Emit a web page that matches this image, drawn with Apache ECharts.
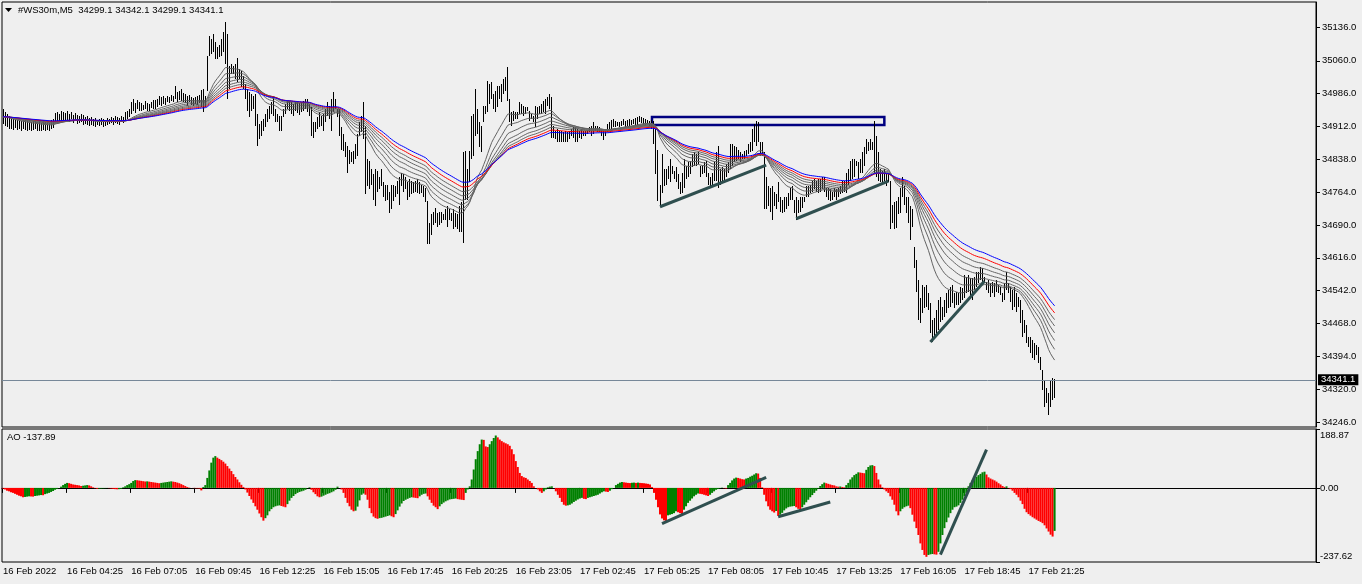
<!DOCTYPE html>
<html>
<head>
<meta charset="utf-8">
<script src="https://cdn.jsdelivr.net/npm/echarts@6.0.0/dist/echarts.min.js"></script>
<style>
html,body{margin:0;padding:0;background:#efefef;}
#chart{width:1362px;height:584px;}
</style>
</head>
<body>
<div id="chart"></div>
<script>
// ---------- DATA ----------
const symbolTitle = '#WS30m,M5  34299.1 34342.1 34299.1 34341.1';
const aoTitle = 'AO -137.89';

// x-axis tick labels, one every 32 bars (M5)
const timeLabels = ['16 Feb 2022','16 Feb 04:25','16 Feb 07:05','16 Feb 09:45','16 Feb 12:25','16 Feb 15:05',
  '16 Feb 17:45','16 Feb 20:25','16 Feb 23:05','17 Feb 02:45','17 Feb 05:25','17 Feb 08:05','17 Feb 10:45',
  '17 Feb 13:25','17 Feb 16:05','17 Feb 18:45','17 Feb 21:25'];
const barsPerLabel = 32;
const slotCount = 656;

// price axis labels
const priceTicks = [34246,34320,34394,34468,34542,34616,34690,34764,34838,34912,34986,35060,35136];
const priceRange = [34234.7, 35192.4];
const lastPrice = 34341.1;

// AO axis labels
const aoTicks = [188.87, 0, -237.62];

// bar highs
const highs = [
34951,34944,34939,34935,34933,34928,34930,34926,34928,34924,34926,
34928,34924,34926,34921,34924,34928,34921,34924,34919,34926,34921,34924,34919,34926,34928,
34942,34944,34939,34946,34944,34942,34946,34939,34944,34937,34942,
34937,34935,34939,34937,34933,34935,34930,34933,34928,34930,34926,34928,
34930,34928,34926,34930,34928,34933,34930,34935,34933,34930,34935,34933,
34944,34946,34951,34967,34973,34964,34971,34967,
34964,34960,34969,34964,34962,34967,34971,34971,34973,34980,34978,34980,34976,
34980,34978,34982,34980,35003,34989,34991,34996,34987,34985,
34980,34982,34978,34976,34978,34980,34982,34994,34996,34980,
35070,35116,35109,35120,35102,35091,35095,35109,35125,35147,
35120,35048,35052,35048,35052,35066,35041,35037,35025,35007,
34996,34989,34985,34980,34985,34939,34917,34924,34928,34939,
34951,34958,34967,34980,34951,34939,34935,34935,34951,34962,
34969,34969,34967,34962,34967,34969,34964,34967,34969,34973,
34973,34962,34955,34921,34921,34933,34944,34935,34939,34951,
34967,34958,34973,34989,34973,34951,34951,34910,34894,34876,
34867,34860,34854,34856,34872,34894,34921,34935,34967,34912,
34838,34833,34815,34804,34815,34811,34799,34815,34786,34781,
34781,34765,34781,34781,34777,34788,34799,34808,34804,34797,
34786,34793,34788,34786,34788,34793,34786,34781,34777,34774,
34743,34695,34714,34720,34729,34718,34720,34720,34714,34725,
34732,34725,34718,34725,34718,34714,34732,34741,34854,34856,
34815,34856,34935,34939,34996,34951,34921,34912,34958,34958,
35014,35007,35012,34985,34991,35003,35003,35007,35018,35023,
35046,34973,34944,34946,34944,34944,34967,34962,34958,34955,
34955,34946,34939,34935,34958,34955,34958,34962,34969,34973,
34978,34985,34978,34912,34901,34906,34901,34901,34899,34901,
34899,34901,34906,34910,34910,34906,34901,34906,34901,34901,
34903,34910,34912,34921,34912,34912,34910,34906,34901,34901,
34917,34921,34926,34928,34924,34921,34921,34924,34928,34924,
34926,34928,34926,34928,34930,34933,34935,34933,34930,34928,
34926,34924,34926,34924,34906,34860,34781,34849,34815,34815,
34822,34838,34822,34811,34820,34804,34786,34808,34838,34822,
34831,34833,34849,34854,34849,34854,34822,34822,34831,34833,
34808,34797,34808,34831,34854,34867,34815,34820,34815,34827,
34831,34872,34872,34867,34865,34860,34854,34849,34856,34860,
34872,34876,34906,34917,34924,34921,34876,34876,34854,34799,
34777,34774,34777,34765,34759,34786,34752,34747,34752,34752,
34763,34774,34777,34747,34752,34747,34752,34752,34754,34777,
34777,34781,34788,34793,34788,34793,34793,34797,34797,34774,
34774,34770,34765,34774,34770,34774,34777,34788,34788,34808,
34815,34833,34838,34838,34833,34831,34838,34854,34865,34883,
34878,34883,34878,34924,34890,34854,34815,34811,34815,34804,
34808,34788,34736,34741,34743,34754,34774,34797,34777,34754,
34752,34732,34725,34641,34612,34567,34526,34555,34551,34555,
34537,34515,34476,34481,34499,34522,34528,34506,34522,34537,
34544,34551,34555,34537,34540,34537,34551,34549,34578,34573,
34578,34571,34571,34573,34583,34585,34596,34594,34573,34562,
34567,34560,34562,34560,34567,34555,34551,34537,34560,34583,
34560,34551,34544,34551,34537,34528,34522,34499,34476,34465,
34438,34438,34431,34424,34420,34415,34393,34363,34341,34323,
34311,34341,34345,34342.1];

// bar lows
const lows = [
34917,34912,34910,34906,34906,34903,34908,34903,34906,34901,34906,
34903,34901,34903,34901,34903,34906,34901,34901,34901,34903,34901,34903,34901,34906,34908,
34919,34917,34919,34924,34926,34921,34926,34921,34928,34919,34924,
34917,34919,34921,34915,34917,34915,34912,34915,34912,34910,34915,34912,
34915,34910,34912,34915,34917,34919,34915,34919,34917,34915,34921,34919,
34926,34928,34933,34939,34946,34942,34951,34946,
34946,34948,34951,34946,34946,34953,34951,34951,34955,34960,34958,34962,34960,
34967,34964,34969,34967,34973,34967,34971,34969,34967,34964,
34958,34967,34960,34958,34962,34960,34964,34955,34944,34955,
34991,35070,35075,35079,35064,35064,35068,35070,35079,35052,
34973,34996,35030,35030,35018,35012,35018,35000,34996,34973,
34946,34933,34946,34951,34912,34867,34883,34890,34901,34910,
34921,34928,34939,34935,34921,34921,34901,34901,34933,34939,
34951,34946,34939,34935,34946,34942,34937,34944,34946,34951,
34944,34935,34890,34885,34899,34906,34910,34912,34901,34921,
34935,34928,34901,34944,34951,34933,34890,34860,34856,34842,
34808,34827,34831,34827,34838,34845,34890,34899,34883,34759,
34777,34770,34781,34747,34732,34765,34770,34777,34754,34743,
34747,34718,34725,34743,34754,34759,34736,34777,34765,34770,
34747,34754,34759,34763,34765,34763,34759,34763,34752,34741,
34646,34646,34668,34691,34695,34686,34691,34695,34702,34702,
34686,34702,34698,34680,34686,34680,34673,34673,34650,34747,
34747,34786,34838,34845,34890,34894,34865,34854,34921,34939,
34944,34962,34973,34951,34944,34955,34973,34967,34985,34991,
34969,34921,34912,34924,34928,34928,34939,34939,34935,34939,
34946,34924,34928,34921,34910,34928,34939,34939,34944,34939,
34958,34951,34887,34887,34883,34878,34878,34876,34878,34876,
34878,34883,34890,34887,34878,34876,34887,34883,34890,34890,
34894,34899,34890,34894,34901,34899,34899,34890,34881,34890,
34899,34906,34901,34910,34910,34912,34910,34912,34915,34910,
34912,34910,34915,34917,34912,34915,34921,34919,34917,34915,
34917,34912,34906,34872,34804,34743,34736,34763,34777,34781,
34793,34786,34804,34793,34786,34770,34759,34763,34774,34793,
34799,34804,34820,34822,34822,34827,34799,34804,34808,34797,
34781,34774,34777,34788,34788,34774,34781,34788,34786,34797,
34808,34815,34822,34831,34833,34838,34831,34838,34838,34845,
34849,34854,34856,34876,34867,34878,34845,34845,34725,34725,
34732,34720,34702,34732,34725,34741,34720,34718,34720,34725,
34732,34747,34747,34718,34702,34718,34720,34729,34741,34754,
34754,34763,34765,34770,34765,34763,34765,34770,34765,34752,
34747,34743,34747,34752,34747,34754,34759,34763,34765,34763,
34781,34788,34793,34797,34822,34793,34808,34808,34822,34849,
34856,34860,34860,34808,34799,34788,34786,34786,34788,34777,
34786,34680,34695,34680,34684,34714,34718,34754,34736,34718,
34695,34657,34686,34594,34540,34476,34469,34492,34503,34506,
34499,34447,34427,34438,34447,34454,34472,34476,34483,34492,
34503,34506,34515,34503,34510,34510,34515,34522,34526,34537,
34540,34528,34522,34544,34551,34560,34567,34562,34560,34544,
34537,34528,34537,34528,34540,34537,34533,34517,34522,34544,
34537,34517,34499,34506,34494,34506,34469,34438,34447,34424,
34415,34402,34390,34386,34397,34379,34363,34318,34280,34289,
34262,34280,34296,34299.1];

// Awesome Oscillator values per bar
const aoValues = [
-2,-5,-9,-11,-14,-16,-19,-22,-25,-27,-30,
-29,-28,-27,-27.5,-28,-26,-25,-24,-23,-23.5,
-20,-18,-16,-13,-10,-6,-3,0,4,9,13,16,
15,13,11,10,9,8,6,7,8,9,8,5,2,-1,-3,
-2.5,-2,-1.5,-1,-0.5,-1,-2,-3,-4,-4.5,-4,-3,
2,5,9,12,16,22,25,24.5,23.5,22.5,21.5,20.5,21,
20,19,18,17,16,15,16,17,18,19,20,21,
20,19,17,15,12,9,6,3,1,0,-0.5,-1,-1.5,-2,-8,
3,9,32,56,81,97,102,
97,93,89,84,78,70,62,54,44,35,27,18,10,3,
-5,-15,-26,-37,-48,-59,-70,-82,-94,-105,
-97,-88,-75,-68,-62,-59,-57,-56,-58,-60,-62,
-52,-41,-32,-26,-20,-16,-13,-11,-9,-6,0,2,
-6,-14,-20,-27,-30,-28,-25,-22,-19,-17,-14,-11,-6,4,0,-5,
-16,-32,-48,-59,-70,-75,-73,-60,-40,-22,-18,
-22,-38,-65,-81,-92,-97,-99,-97,-96,-94,-92,-90,-88,-91,-94,
-84,-72,-60,-50,-42,-38,-35,-32,-30,-31,-32,-33,
-27,-22,-19,-18,-27,-38,-48,-57,-62,-68,
-59,-52,-47,-43,-40,-37,-36,-35,-34,-36,-37,-38,-39,-16,-5,
5,27,59,92,118,140,155,154,133,131,140,150,160,168,
162,155,150,146,143,140,135,124,108,86,67,48,
38,34,32,27,22,16,5,0,-5,-11,-16,-11,-5,2,4,5,0,
-11,-22,-32,-45,-54,-57,-56,-54,-50,-45,-41,-37,-34,-32,-35,-36,
-32,-30,-28,-26,-24,-22,-18,-14,-11,-12,-13,-9,-4,0,
9,13,17,19,18,17,16,15.5,16.5,17,16,17,
16,15.5,15,14,13,11,3,-16,-38,-62,-85,-98,-104,-106,
-88,-86,-84,-81,-75,-78,-81,-84,-70,-59,-48,-41,-34,-27,-22,-18,
-19,-20,-22,-24,-26,-22,-16,-11,-6,-3,-1,1,-1,-2,
9,16,24,30,33,32,30,28,27,30,32,36,39,43,47,46,32,2,
-22,-43,-59,-70,-75,-79,-74,-90,-86,-80,-72,-66,-62,-60,-59,-58,
-62,-67,-70,-62,-54,-46,-38,-30,-23,-16,-9,-2,6,12,17,
15,13,11,9,8,5,4,4.5,3,2,9,16,27,34,41,45,50,49,48,47,
58,67,72,73,70,48,27,11,2,-5,-11,-16,-27,-38,-54,-75,-88,
-75,-67,-62,-59,-57,-65,-86,-108,-129,-151,-178,-199,-215,-221,
-215,-213,-212,-213,-214,-205,-178,-151,-129,-110,-95,-81,-70,
-62,-60,-56,-48,-38,-27,-16,5,16,24,30,36,41,45,50,52,
43,34,30,27,24,20,15,11,6,3,5,-1,-4,-9,
-16,-22,-30,-41,-52,-67,-78,-84,-89,-94,-98,-102,-106,-109,-113,
-120,-130,-140,-150,-156,-137.89];

// moving-average ribbon periods (EMA of median price)
const grayPeriods = [20,27,34,41,48,55];
const redPeriod = 63;
const bluePeriod = 72;

// hand-drawn objects: [barIndex, price] pairs
const priceTrendLines = [
  [[328.1,34731],[381.4,34825]],
  [[396.1,34704],[442.3,34789]],
  [[463.0,34426],[489.6,34563]]
];
const priceBox = [[324.3,34933],[440.2,34915]];
const aoTrendLines = [
  [[329.4,-114.8],[380.7,34.0]],
  [[387.4,-92.4],[412.7,-45.2]],
  [[468.1,-214.2],[491.3,122.5]]
];

// ---------- BUILD ----------
const n = Math.min(highs.length, lows.length);
const medians = [];
for (let i = 0; i < n; i++) medians.push((highs[i] + lows[i]) / 2);
function ema(src, p) {
  const k = 2 / (p + 1); const out = []; let prev = src[0];
  for (let i = 0; i < src.length; i++) { prev = i === 0 ? src[0] : src[i] * k + prev * (1 - k); out.push(prev); }
  return out;
}
const categories = [];
for (let i = 0; i < slotCount; i++) categories.push(String(i));
const barData = [];
for (let i = 0; i < n; i++) barData.push([i, lows[i], highs[i]]);
const aoData = aoValues.map((v, i) => ({
  value: v,
  itemStyle: { color: (i === 0 || v <= aoValues[i - 1]) ? '#ff0000' : '#008000' }
}));

const FONT = '"Liberation Sans", Arial, sans-serif';
const FS = 9.5;

const series = [];
series.push({
  type: 'custom', xAxisIndex: 0, yAxisIndex: 0, data: barData, silent: true,
  encode: { x: 0, y: [1, 2] },
  renderItem: function (params, api) {
    const lo = api.coord([api.value(0), api.value(1)]);
    const hi = api.coord([api.value(0), api.value(2)]);
    const x = Math.round(lo[0] - 0.5) + 0.5;
    let y1 = Math.round(hi[1]), y2 = Math.round(lo[1]);
    if (y2 - y1 < 1) y2 = y1 + 1;
    return { type: 'line', shape: { x1: x, y1: y1, x2: x, y2: y2 }, style: { stroke: '#000', lineWidth: 1 } };
  }
});
grayPeriods.forEach(p => {
  series.push({ type: 'line', xAxisIndex: 0, yAxisIndex: 0, data: ema(medians, p), showSymbol: false, silent: true,
    lineStyle: { color: '#646464', width: 1 }, z: 3 });
});
series.push({ type: 'line', xAxisIndex: 0, yAxisIndex: 0, data: ema(medians, redPeriod), showSymbol: false, silent: true,
  lineStyle: { color: '#ff0000', width: 1 }, z: 4 });
series.push({ type: 'line', xAxisIndex: 0, yAxisIndex: 0, data: ema(medians, bluePeriod), showSymbol: false, silent: true,
  lineStyle: { color: '#0000ff', width: 1 }, z: 5,
  markLine: {
    silent: true, symbol: ['none', 'none'], animation: false,
    data: [
      { yAxis: lastPrice, lineStyle: { color: '#778899', width: 1, type: 'solid' },
        label: { show: true, position: 'end', formatter: lastPrice.toFixed(1), color: '#fff', backgroundColor: '#000',
          padding: [1, 3, 0, 3], fontSize: FS, fontFamily: FONT, distance: 2 } }
    ].concat(priceTrendLines.map(l => [
      { coord: l[0], lineStyle: { color: '#2f4f4f', width: 3, type: 'solid' }, label: { show: false } },
      { coord: l[1] }
    ]))
  },
  markArea: {
    silent: true,
    itemStyle: { color: 'rgba(0,0,0,0)', borderColor: '#000080', borderWidth: 2.5 },
    data: [[{ coord: priceBox[0] }, { coord: priceBox[1] }]]
  }
});
series.push({
  type: 'bar', xAxisIndex: 1, yAxisIndex: 1, data: aoData, barCategoryGap: '0%', barGap: '0%', silent: true,
  markLine: {
    silent: true, symbol: ['none', 'none'], animation: false,
    data: aoTrendLines.map(l => [
      { coord: l[0], lineStyle: { color: '#2f4f4f', width: 3, type: 'solid' }, label: { show: false } },
      { coord: l[1] }
    ])
  }
});

const chart = echarts.init(document.getElementById('chart'), null, { renderer: 'canvas' });
chart.setOption({
  animation: false,
  backgroundColor: '#efefef',
  title: [
    { text: symbolTitle, left: 18, top: 5, padding: 0, textStyle: { fontSize: FS, fontWeight: 'normal', color: '#000', fontFamily: FONT } },
    { text: aoTitle, left: 7, top: 432, padding: 0, textStyle: { fontSize: FS, fontWeight: 'normal', color: '#000', fontFamily: FONT } }
  ],
  graphic: [
    { type: 'polygon', shape: { points: [[5, 8], [12, 8], [8.5, 12]] }, style: { fill: '#000' } }
  ],
  grid: [
    { left: 2, top: 2, width: 1314, height: 425, show: true, borderColor: '#000', borderWidth: 1, backgroundColor: 'transparent' },
    { left: 2, top: 429, width: 1314, height: 133, show: true, borderColor: '#000', borderWidth: 1, backgroundColor: 'transparent' }
  ],
  xAxis: [
    { type: 'category', gridIndex: 0, data: categories, boundaryGap: true,
      axisLine: { show: false }, axisTick: { show: false }, axisLabel: { show: false }, splitLine: { show: false } },
    { type: 'category', gridIndex: 1, data: categories, boundaryGap: true,
      axisLine: { show: true, lineStyle: { color: '#000' } },
      axisTick: { show: true, length: 5, lineStyle: { color: '#000' },
        interval: (idx) => idx % barsPerLabel === 0 && idx / barsPerLabel < timeLabels.length },
      axisLabel: { show: true, color: '#000', fontSize: FS, fontFamily: FONT, align: 'left', margin: 4,
        interval: (idx) => idx % barsPerLabel === 0 && idx / barsPerLabel < timeLabels.length,
        formatter: (v, idx) => timeLabels[Math.round(Number(v) / barsPerLabel)] || '' },
      splitLine: { show: false } }
  ],
  yAxis: [
    { type: 'value', gridIndex: 0, position: 'right', min: priceRange[0], max: priceRange[1], scale: true,
      splitLine: { show: false },
      axisLine: { show: true, lineStyle: { color: '#000' } },
      axisTick: { show: true, length: 4, customValues: priceTicks, lineStyle: { color: '#000' } },
      axisLabel: { show: true, customValues: priceTicks, color: '#000', fontSize: FS, fontFamily: FONT, margin: 6,
        formatter: v => Number(v).toFixed(1) } },
    { type: 'value', gridIndex: 1, position: 'right', min: aoTicks[2], max: aoTicks[0],
      splitLine: { show: false },
      axisLine: { show: true, lineStyle: { color: '#000' } },
      axisTick: { show: true, length: 4, customValues: aoTicks, lineStyle: { color: '#000' } },
      axisLabel: { show: true, customValues: aoTicks, color: '#000', fontSize: FS, fontFamily: FONT, margin: 4,
        formatter: v => {
          const s = Number(v).toFixed(2);
          if (v === aoTicks[0]) return '{top|' + s + '}';
          if (v === aoTicks[2]) return '{bot|' + s + '}';
          return s;
        },
        rich: {
          top: { padding: [12, 0, 0, 0], fontSize: FS, fontFamily: FONT, color: '#000' },
          bot: { padding: [0, 0, 12, 0], fontSize: FS, fontFamily: FONT, color: '#000' }
        } } }
  ],
  series: series
});
</script>
</body>
</html>
